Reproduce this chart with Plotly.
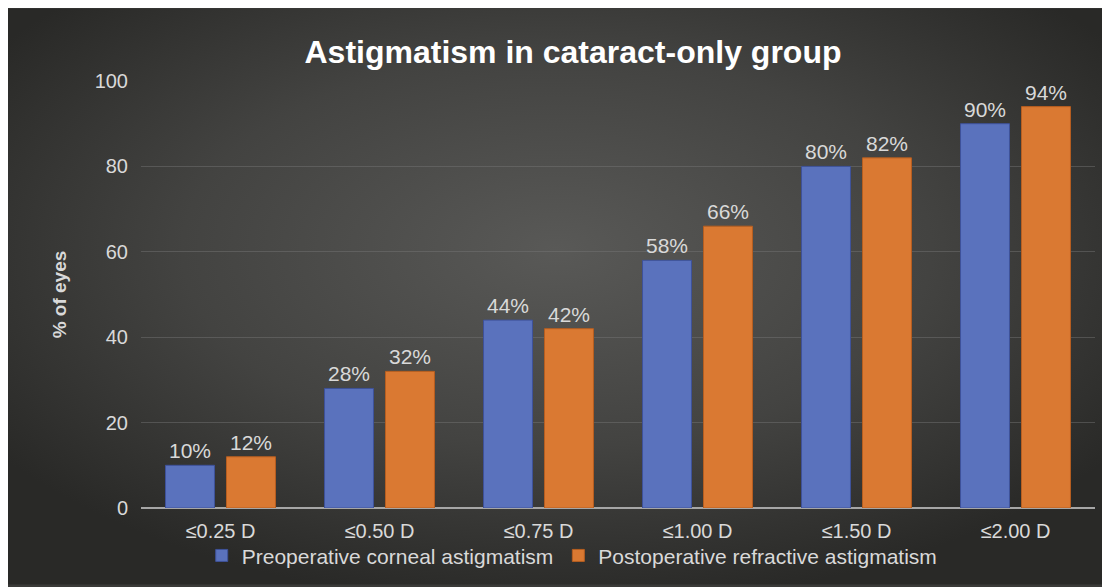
import plotly.graph_objects as go
import urllib.parse

categories = ["≤0.25 D", "≤0.50 D", "≤0.75 D", "≤1.00 D", "≤1.50 D", "≤2.00 D"]
preop = [10, 28, 44, 58, 80, 90]
postop = [12, 32, 42, 66, 82, 94]
series_names = ["Preoperative corneal astigmatism", "Postoperative refractive astigmatism"]
y_ticks = [0, 20, 40, 60, 80, 100]

W, H = 1098, 579
L, R, T, B = 133, 11, 73, 77
pw = W - L - R
ph = H - T - B

font_family = "Liberation Sans, Arial, sans-serif"
txt_col = "#d9d9d9"

svg = (
    f'<svg xmlns="http://www.w3.org/2000/svg" width="{W}" height="{H}" preserveAspectRatio="none">'
    '<defs><radialGradient id="g" cx="50%" cy="42%" r="62%">'
    '<stop offset="0%" stop-color="#595957"/>'
    '<stop offset="55%" stop-color="#434341"/>'
    '<stop offset="100%" stop-color="#292927"/>'
    '</radialGradient></defs>'
    f'<rect width="{W}" height="{H}" fill="url(#g)"/></svg>'
)
src = "data:image/svg+xml;charset=utf-8," + urllib.parse.quote(svg)

fig = go.Figure()
fig.add_trace(go.Bar(
    x=categories, y=preop, name=series_names[0],
    marker=dict(color="#5a72bd", line=dict(color="#3e529a", width=1)),
    text=[f"{v}%" for v in preop], textposition="outside",
    textfont=dict(color=txt_col, size=21, family=font_family),
    cliponaxis=False,
))
fig.add_trace(go.Bar(
    x=categories, y=postop, name=series_names[1],
    marker=dict(color="#da7932", line=dict(color="#b65e20", width=1)),
    text=[f"{v}%" for v in postop], textposition="outside",
    textfont=dict(color=txt_col, size=21, family=font_family),
    cliponaxis=False,
))

fig.update_layout(
    width=W, height=H,
    margin=dict(l=L, r=R, t=T, b=B),
    paper_bgcolor="#3a3a38",
    plot_bgcolor="rgba(0,0,0,0)",
    barmode="group",
    bargap=0.233,
    bargroupgap=0.197,
    font=dict(family=font_family, color=txt_col, size=18),
    title=dict(
        text="<b>Astigmatism in cataract-only group</b>",
        x=565 / W, xanchor="center",
        y=1 - 44 / H, yanchor="middle",
        font=dict(size=32, color="white", family=font_family),
    ),
    images=[dict(
        source=src, xref="paper", yref="paper",
        x=-L / pw, y=(H - B) / ph,
        sizex=W / pw, sizey=H / ph,
        xanchor="left", yanchor="top",
        sizing="stretch", layer="below",
    )],
    legend=dict(
        orientation="h", x=0.452, xanchor="center",
        y=-48 / ph, yanchor="middle",
        font=dict(size=21, color=txt_col, family=font_family),
        bgcolor="rgba(0,0,0,0)",
        itemwidth=30, tracegroupgap=0,
    ),
    showlegend=True,
)
fig.update_xaxes(
    showgrid=False, showline=False, zeroline=False,
    tickfont=dict(size=20, color=txt_col),
    ticks="", ticklabelstandoff=9,
)
fig.update_yaxes(
    range=[0, 100], tickvals=y_ticks,
    showgrid=True, gridcolor="rgba(120,120,120,0.45)", gridwidth=1,
    zeroline=True, zerolinecolor="#a6a6a6", zerolinewidth=2,
    showline=False,
    tickfont=dict(size=20, color=txt_col),
    ticklabelstandoff=12,
    title=dict(text="<b>% of eyes</b>", font=dict(size=19, color=txt_col), standoff=22),
)

fig.write_html("out.html")
